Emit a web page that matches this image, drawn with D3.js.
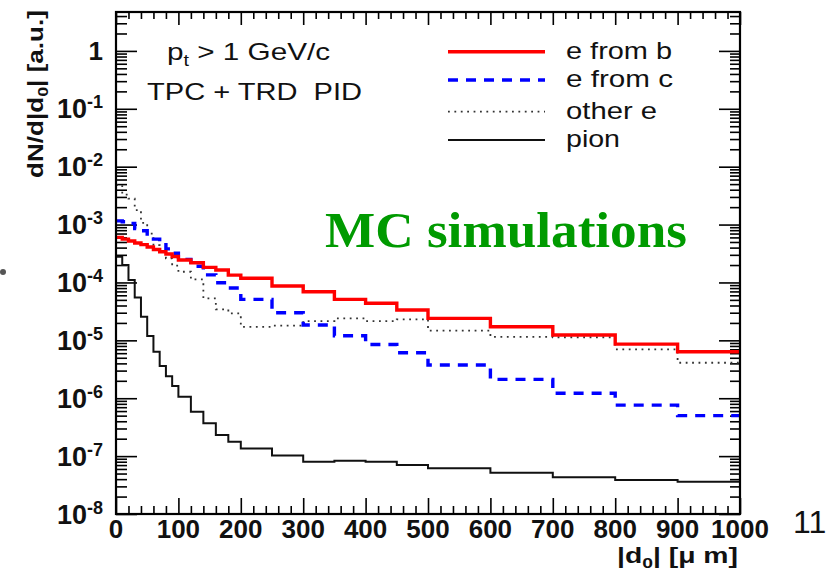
<!DOCTYPE html>
<html>
<head>
<meta charset="utf-8">
<script src="https://cdn.jsdelivr.net/npm/d3@7"></script>
<style>
  body { margin: 0; background: #fff; }
  svg { display: block; font-family: "Liberation Sans", Arial, sans-serif; }
</style>
</head>
<body>
<svg width="839" height="571"></svg>
<script>
// bin edges in |d0| [um]
const binEdges = [0, 10, 20, 30, 40, 50, 60, 70, 80, 90, 100, 120, 140, 160, 180, 200,
  250, 300, 350, 400, 450, 500, 600, 700, 800, 900, 1000];

const eFromB = [6.0e-4, 5.6e-4, 5.2e-4, 4.8e-4, 4.5e-4, 4.1e-4, 3.7e-4, 3.4e-4, 3.1e-4, 2.8e-4,
  2.44e-4, 2.19e-4, 1.82e-4, 1.64e-4, 1.34e-4,
  1.18e-4, 8.7e-5, 6.9e-5, 5.1e-5, 4.36e-5, 3.34e-5, 2.4e-5, 1.72e-5, 1.24e-5, 8.6e-6, 6.35e-6];

const eFromC = [1.16e-3, 1.12e-3, 1.05e-3, 8.5e-4, 7.8e-4, 6.3e-4, 5.6e-4, 5.05e-4, 3.8e-4, 3.2e-4,
  2.5e-4, 1.9e-4, 1.35e-4, 9.9e-5, 8.0e-5,
  5.1e-5, 3.0e-5, 1.84e-5, 1.2e-5, 8.5e-6, 6.1e-6, 3.75e-6, 2.12e-6, 1.22e-6, 7.6e-7, 5.0e-7];

const otherE = [4.8e-3, 3.3e-3, 2.8e-3, 1.78e-3, 1.07e-3, 7.0e-4, 4.4e-4, 3.4e-4, 2.6e-4, 1.95e-4,
  1.53e-4, 1.13e-4, 5.3e-5, 3.43e-5, 2.92e-5,
  1.71e-5, 1.79e-5, 2.15e-5, 2.4e-5, 2.15e-5, 2.31e-5, 1.47e-5, 1.15e-5, 1.13e-5, 7.0e-6, 4.1e-6];

const pion = [2.78e-4, 2.0e-4, 1.1e-4, 5.5e-5, 2.56e-5, 1.19e-5, 6.35e-6, 3.6e-6, 2.4e-6, 1.63e-6,
  1.06e-6, 5.85e-7, 3.69e-7, 2.31e-7, 1.77e-7,
  1.36e-7, 1.02e-7, 8.0e-8, 8.3e-8, 8.0e-8, 7.0e-8, 6.15e-8, 5.17e-8, 4.3e-8, 3.87e-8, 3.61e-8];

const seriesNames = ["e from b", "e from c", "other e", "pion"];
const xTicks = [0, 100, 200, 300, 400, 500, 600, 700, 800, 900, 1000];
const yExps = [-8, -7, -6, -5, -4, -3, -2, -1, 0];

const svg = d3.select("svg");
const frameL = 116, frameR = 740, frameT = 12, frameB = 514;

const x = d3.scaleLinear().domain([0, 1000]).range([frameL, frameR]);
const y = d3.scaleLog().domain([1e-8, 4.7]).range([frameB, frameT]);

// ticks
const majorY = yExps.map(e => Math.pow(10, e));
const minorY = [];
for (const e of yExps) {
  for (let m = 2; m <= 9; m++) {
    const v = m * Math.pow(10, e);
    if (v <= 4.7) minorY.push(v);
  }
}
const minorX = d3.range(0, 1001, 20).filter(v => v % 100 !== 0);

function axis(gen, tx, ty) {
  const g = svg.append("g").attr("transform", `translate(${tx},${ty})`).call(gen);
  g.select(".domain").remove();
  g.selectAll("line").attr("stroke", "#000").attr("stroke-width", 1.6);
  return g;
}

axis(d3.axisLeft(y).tickValues(majorY).tickSize(-21).tickFormat(""), frameL, 0);
axis(d3.axisLeft(y).tickValues(minorY).tickSize(-11).tickFormat(""), frameL, 0);
axis(d3.axisRight(y).tickValues(majorY).tickSize(-21).tickFormat(""), frameR, 0);
axis(d3.axisRight(y).tickValues(minorY).tickSize(-10).tickFormat(""), frameR, 0);
axis(d3.axisBottom(x).tickValues(xTicks).tickSize(-16).tickFormat(""), 0, frameB);
axis(d3.axisBottom(x).tickValues(minorX).tickSize(-8).tickFormat(""), 0, frameB);
axis(d3.axisTop(x).tickValues(xTicks).tickSize(-13).tickFormat(""), 0, frameT);
axis(d3.axisTop(x).tickValues(minorX).tickSize(-7).tickFormat(""), 0, frameT);

// histograms
const step = d3.line()
  .curve(d3.curveStepAfter)
  .x(d => x(d[0]))
  .y(d => y(d[1]));

function histPoints(vals) {
  const pts = vals.map((v, i) => [binEdges[i], v]);
  pts.push([binEdges[binEdges.length - 1], vals[vals.length - 1]]);
  return pts;
}

const styles = [
  { stroke: "#ff0000", width: 3.4, dash: null },
  { stroke: "#0000ff", width: 3.4, dash: "10,8" },
  { stroke: "#333", width: 1.8, dash: "1.8,4.6" },
  { stroke: "#111", width: 2, dash: null }
];
const allSeries = [eFromB, eFromC, otherE, pion];

svg.append("g")
  .selectAll("path")
  .data([3, 2, 1, 0])
  .join("path")
  .attr("d", i => step(histPoints(allSeries[i])))
  .attr("fill", "none")
  .attr("stroke", i => styles[i].stroke)
  .attr("stroke-width", i => styles[i].width)
  .attr("stroke-dasharray", i => styles[i].dash);

// frame
svg.append("rect")
  .attr("x", frameL).attr("y", frameT)
  .attr("width", frameR - frameL).attr("height", frameB - frameT)
  .attr("fill", "none").attr("stroke", "#000").attr("stroke-width", 2.2);

// y tick labels
const yl = svg.append("g").attr("font-weight", "bold").attr("fill", "#111");
yExps.forEach(e => {
  const t = yl.append("text")
    .attr("x", 103)
    .attr("y", y(Math.pow(10, e)) + 9.5)
    .attr("text-anchor", "end");
  if (e === 0) {
    t.attr("font-size", 26).text("1");
  } else {
    t.append("tspan").attr("font-size", 27).text("10");
    t.append("tspan").attr("font-size", 18).attr("dy", -10).text(String(e));
  }
});

// x tick labels
svg.append("g")
  .selectAll("text")
  .data(xTicks)
  .join("text")
  .attr("x", d => x(d))
  .attr("y", 538)
  .attr("text-anchor", "middle")
  .attr("font-weight", "bold")
  .attr("font-size", 26)
  .attr("fill", "#111")
  .text(d => d);

// axis titles
const yt = svg.append("text")
  .attr("transform", "translate(43,178) rotate(-90)")
  .attr("font-weight", "bold")
  .attr("font-size", 22)
  .attr("fill", "#111")
  .attr("textLength", 168)
  .attr("lengthAdjust", "spacingAndGlyphs");
yt.append("tspan").text("dN/d|d");
yt.append("tspan").attr("font-size", 15).attr("dy", 5).text("0");
yt.append("tspan").attr("dy", -5).text("| [a.u.]");

const xt = svg.append("text")
  .attr("x", 617).attr("y", 563)
  .attr("font-weight", "bold")
  .attr("font-size", 22)
  .attr("fill", "#111")
  .attr("textLength", 121)
  .attr("lengthAdjust", "spacingAndGlyphs");
xt.append("tspan").text("|d");
xt.append("tspan").attr("font-size", 15).attr("dy", 5).text("0");
xt.append("tspan").attr("dy", -5).text("| [\u03bc m]");

// annotations
const pt = svg.append("text")
  .attr("x", 167).attr("y", 60)
  .attr("font-size", 24).attr("fill", "#111")
  .attr("textLength", 163)
  .attr("lengthAdjust", "spacingAndGlyphs");
pt.append("tspan").text("p");
pt.append("tspan").attr("font-size", 16).attr("dy", 6).text("t");
pt.append("tspan").attr("dy", -6).text(" > 1 GeV/c");

svg.append("text")
  .attr("x", 147).attr("y", 100)
  .attr("font-size", 24).attr("fill", "#111")
  .attr("textLength", 215)
  .attr("lengthAdjust", "spacingAndGlyphs")
  .attr("xml:space", "preserve")
  .text("TPC + TRD  PID");

svg.append("text")
  .attr("x", 325).attr("y", 247)
  .style("font-family", "'Liberation Serif', 'Times New Roman', serif")
  .attr("font-weight", "bold")
  .attr("font-size", 50)
  .attr("fill", "#009a00")
  .attr("textLength", 362)
  .attr("lengthAdjust", "spacingAndGlyphs")
  .text("MC simulations");

// legend
const legY = [51.7, 80, 111.7, 140];
const legW = [106, 107, 91, 54];
const leg = svg.append("g");
seriesNames.forEach((name, i) => {
  leg.append("line")
    .attr("x1", 448).attr("x2", 545)
    .attr("y1", legY[i]).attr("y2", legY[i])
    .attr("stroke", styles[i].stroke)
    .attr("stroke-width", styles[i].width)
    .attr("stroke-dasharray", styles[i].dash);
  leg.append("text")
    .attr("x", 566).attr("y", legY[i] + 7)
    .attr("font-size", 24).attr("fill", "#111")
    .attr("textLength", legW[i])
    .attr("lengthAdjust", "spacingAndGlyphs")
    .text(name);
});

// slide decorations
svg.append("text")
  .attr("x", 793).attr("y", 533)
  .attr("font-size", 32).attr("fill", "#111")
  .text("11");
svg.append("circle").attr("cx", 3).attr("cy", 272).attr("r", 3).attr("fill", "#555");
</script>
</body>
</html>
